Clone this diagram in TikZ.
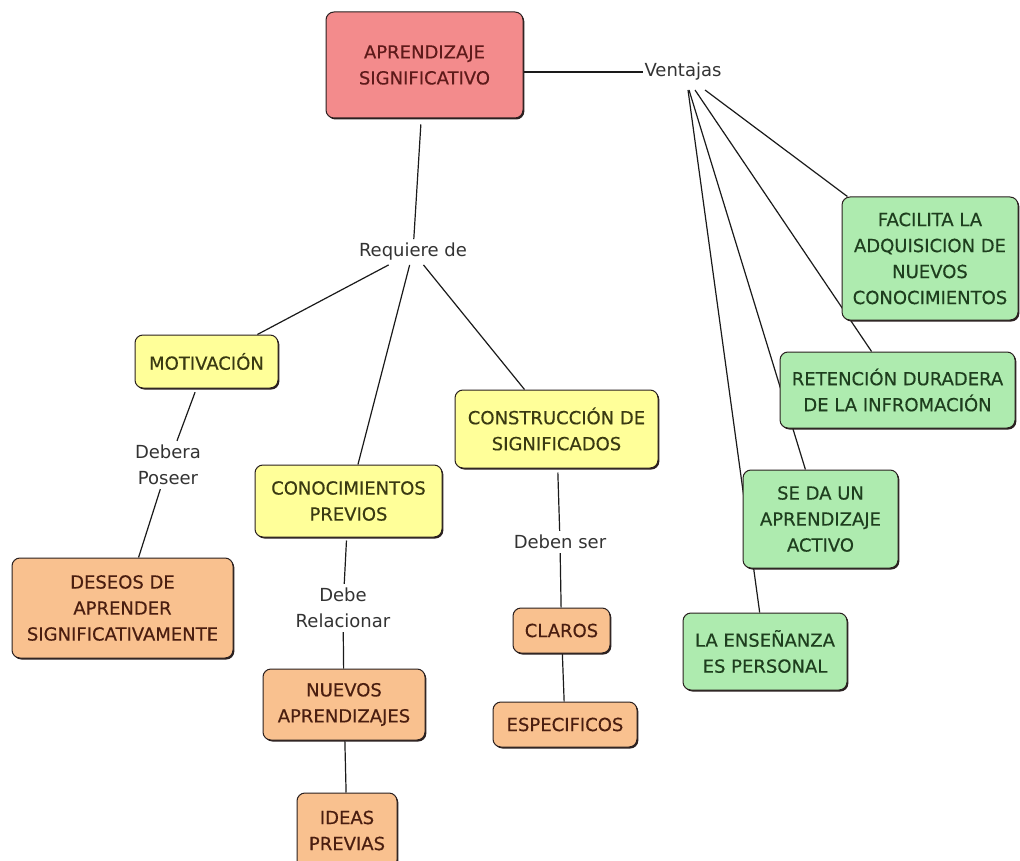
\documentclass[tikz,border=0pt]{standalone}
\usepackage{fontspec}
\setmainfont{DejaVu Sans}
\newfontfamily\cmapfont{DejaVu Sans}[BoldFont={DejaVu Sans}, BoldFeatures={FakeBold=0.4}]
\usetikzlibrary{shadows,backgrounds}
\definecolor{pinkfill}{HTML}{F38B8C}
\definecolor{yelfill}{HTML}{FFFF99}
\definecolor{orfill}{HTML}{F9C18F}
\definecolor{grfill}{HTML}{AEEBAF}
\definecolor{boxborder}{HTML}{2A2020}
\definecolor{pinktext}{HTML}{5E1A1A}
\definecolor{yeltext}{HTML}{3A3A12}
\definecolor{ortext}{HTML}{4A1E10}
\definecolor{grtext}{HTML}{1E3E1E}
\definecolor{labtext}{HTML}{333333}
\definecolor{linecol}{HTML}{1A1A1A}
\tikzset{
  conceptbox/.style={draw=boxborder, line width=1pt, rounded corners=8pt,
    align=center, inner sep=0pt, font=\cmapfont\bfseries\fontsize{18}{26}\selectfont,
    drop shadow={shadow xshift=1.3pt, shadow yshift=-1.5pt, fill=boxborder, opacity=1}},
  pinkbox/.style={conceptbox, fill=pinkfill, text=pinktext},
  yelbox/.style={conceptbox, fill=yelfill, text=yeltext},
  orbox/.style={conceptbox, fill=orfill, text=ortext},
  grbox/.style={conceptbox, fill=grfill, text=grtext},
  linklabel/.style={inner sep=4pt, align=center, text=labtext,
    font=\cmapfont\fontsize{18}{26}\selectfont},
  conn/.style={draw=linecol, line width=1.2pt}
}
\begin{document}
\begin{tikzpicture}[x=1pt, y=-1pt]
\useasboundingbox (0,0) rectangle (1020,861);

% concept boxes
\node[pinkbox, minimum width=197pt, minimum height=106pt] (main) at (424.5,65) {APRENDIZAJE\\SIGNIFICATIVO};
\node[yelbox, minimum width=143pt, minimum height=53pt] (mot) at (206.5,361.5) {MOTIVACIÓN};
\node[orbox, minimum width=221pt, minimum height=100pt] (deseos) at (122.5,608) {DESEOS DE\\APRENDER\\SIGNIFICATIVAMENTE};
\node[yelbox, minimum width=187pt, minimum height=72pt] (conoc) at (348.5,501) {CONOCIMIENTOS\\PREVIOS};
\node[orbox, minimum width=162pt, minimum height=71pt] (nuevos) at (344,704.5) {NUEVOS\\APRENDIZAJES};
\node[orbox, minimum width=100pt, minimum height=75pt] (ideas) at (347,830.5) {IDEAS\\PREVIAS};
\node[yelbox, minimum width=203pt, minimum height=78pt] (constr) at (556.5,429) {CONSTRUCCIÓN DE\\SIGNIFICADOS};
\node[orbox, minimum width=97pt, minimum height=45pt] (claros) at (561.5,630.5) {CLAROS};
\node[orbox, minimum width=144pt, minimum height=45pt] (espec) at (565,724.5) {ESPECIFICOS};
\node[grbox, minimum width=176pt, minimum height=123pt] (fac) at (930,258.5) {FACILITA LA\\ADQUISICION DE\\NUEVOS\\CONOCIMIENTOS};
\node[grbox, minimum width=235pt, minimum height=76pt] (ret) at (897.5,390) {RETENCIÓN DURADERA\\DE LA INFROMACIÓN};
\node[grbox, minimum width=155pt, minimum height=98pt] (seda) at (820.5,519) {SE DA UN\\APRENDIZAJE\\ACTIVO};
\node[grbox, minimum width=164pt, minimum height=77pt] (ens) at (765,651.5) {LA ENSEÑANZA\\ES PERSONAL};

% linking phrases
\node[linklabel, inner sep=1pt] (vent) at (683,72) {Ventajas};
\node[linklabel] (req) at (413,252) {Requiere de};
\node[linklabel] (deb) at (168,465) {Debera\\Poseer};
\node[linklabel] (debrel) at (343,608) {Debe\\Relacionar};
\node[linklabel] (debser) at (560,542) {Deben ser};

\coordinate (v1) at (688,90);
\coordinate (v2) at (689,90);
\coordinate (v3) at (695,90);
\coordinate (v4) at (705,90);

\begin{pgfonlayer}{background}
\fill[white] (0,0) rectangle (1020,861);
% connectors
\draw[conn] (main.east |- vent.west) -- (vent.west);
\draw[conn] (v4) -- (fac);
\draw[conn] (v3) -- (ret);
\draw[conn] (v2) -- (seda);
\draw[conn] (v1) -- (ens);

\draw[conn, shorten <=6pt] (main) -- (req);
\draw[conn] (req) -- (mot);
\draw[conn] (req) -- (conoc);
\draw[conn] (req) -- (constr);

\draw[conn, shorten <=4pt] (mot) -- (deb);
\draw[conn] (deb) -- (deseos);

\draw[conn, shorten <=3pt] (conoc) -- (debrel);
\draw[conn] (debrel) -- (nuevos);
\draw[conn] (nuevos) -- (ideas);

\draw[conn, shorten <=4pt] (constr) -- (debser);
\draw[conn] (debser) -- (claros);
\draw[conn] (claros) -- (espec);
\end{pgfonlayer}
\end{tikzpicture}
\end{document}
